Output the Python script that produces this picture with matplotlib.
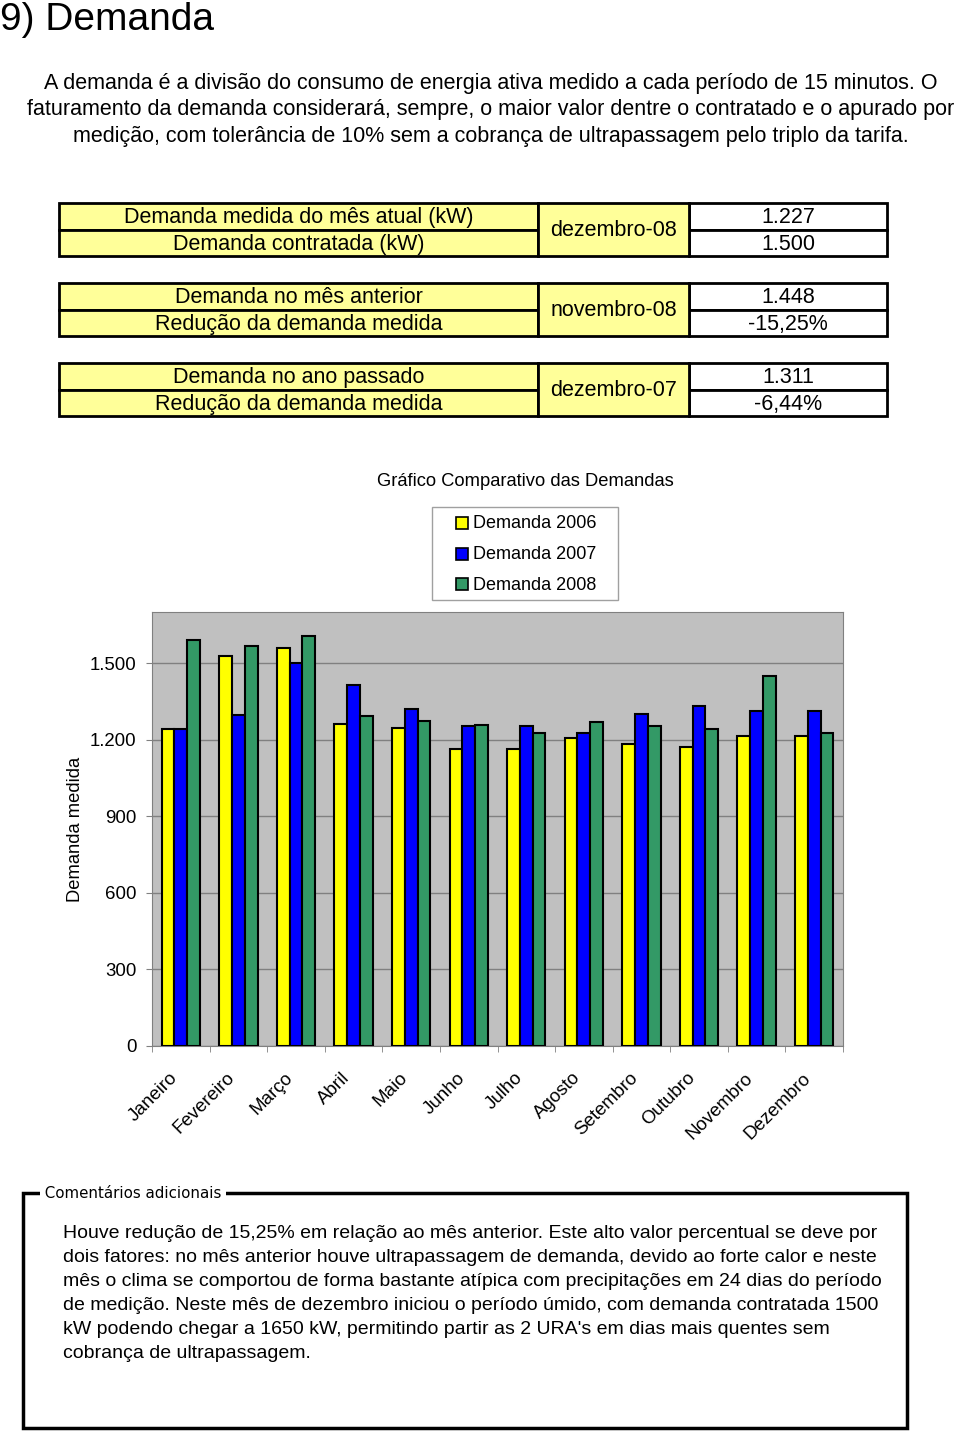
import matplotlib
matplotlib.use("Agg")
import matplotlib.pyplot as plt
import matplotlib.transforms as mtransforms
import numpy as np
from matplotlib.patches import Rectangle

plt.rcParams['font.family'] = ['Liberation Sans', 'DejaVu Sans']

# ---------------- data ----------------
months = ["Janeiro", "Fevereiro", "Março", "Abril", "Maio", "Junho",
          "Julho", "Agosto", "Setembro", "Outubro", "Novembro", "Dezembro"]
dem_2006 = [1242, 1526, 1560, 1263, 1247, 1162, 1162, 1208, 1184, 1173, 1213, 1213]
dem_2007 = [1242, 1298, 1499, 1413, 1320, 1255, 1254, 1225, 1300, 1332, 1312, 1311]
dem_2008 = [1589, 1568, 1606, 1294, 1273, 1257, 1225, 1268, 1252, 1243, 1448, 1227]
series_labels = ["Demanda 2006", "Demanda 2007", "Demanda 2008"]
series_colors = ["#FFFF00", "#0000FF", "#339966"]
y_ticks = [0, 300, 600, 900, 1200, 1500]
y_tick_labels = ["0", "300", "600", "900", "1.200", "1.500"]

table_left = [["Demanda medida do mês atual (kW)", "Demanda contratada (kW)"],
              ["Demanda no mês anterior", "Redução da demanda medida"],
              ["Demanda no ano passado", "Redução da demanda medida"]]
table_mid = ["dezembro-08", "novembro-08", "dezembro-07"]
table_right = [["1.227", "1.500"], ["1.448", "-15,25%"], ["1.311", "-6,44%"]]

title = "9) Demanda"
intro = ["A demanda é a divisão do consumo de energia ativa medido a cada período de 15 minutos. O",
         "faturamento da demanda considerará, sempre, o maior valor dentre o contratado e o apurado por",
         "medição, com tolerância de 10% sem a cobrança de ultrapassagem pelo triplo da tarifa."]
chart_title = "Gráfico Comparativo das Demandas"
y_label = "Demanda medida"
comment_title = "Comentários adicionais"
comment_lines = [
    "Houve redução de 15,25% em relação ao mês anterior. Este alto valor percentual se deve por",
    "dois fatores: no mês anterior houve ultrapassagem de demanda, devido ao forte calor e neste",
    "mês o clima se comportou de forma bastante atípica com precipitações em 24 dias do período",
    "de medição. Neste mês de dezembro iniciou o período úmido, com demanda contratada 1500",
    "kW podendo chegar a 1650 kW, permitindo partir as 2 URA's em dias mais quentes sem",
    "cobrança de ultrapassagem.",
]

# ---------------- figure ----------------
W, H = 960, 1434
fig = plt.figure(figsize=(W / 100, H / 100), dpi=100)

# overlay axis in pixel coordinates
ov = fig.add_axes([0, 0, 1, 1])
ov.set_xlim(0, W)
ov.set_ylim(H, 0)
ov.axis("off")

ov.text(0, 20, title, fontsize=28, ha="left", va="center")
for i, line in enumerate(intro):
    ov.text(491, 83.5 + i * 26.5, line, fontsize=15.5, ha="center", va="center")

# table blocks
fill = "#FFFF99"
block_tops = [203, 283, 363]
row_h = 26.5
x0, x1, x2, x3 = 59, 538, 689, 887
for b, top in enumerate(block_tops):
    for r in range(2):
        y = top + r * row_h
        ov.add_patch(Rectangle((x0, y), x1 - x0, row_h, facecolor=fill, edgecolor="black", lw=2, zorder=2))
        ov.add_patch(Rectangle((x2, y), x3 - x2, row_h, facecolor="white", edgecolor="black", lw=2, zorder=2))
        ov.text((x0 + x1) / 2, y + row_h / 2 + 1.5, table_left[b][r], fontsize=15.5, ha="center", va="center", zorder=3)
        ov.text((x2 + x3) / 2, y + row_h / 2 + 1.5, table_right[b][r], fontsize=15.5, ha="center", va="center", zorder=3)
    ov.add_patch(Rectangle((x1, top), x2 - x1, 2 * row_h, facecolor=fill, edgecolor="black", lw=2, zorder=2))
    ov.text((x1 + x2) / 2, top + row_h + 1.5, table_mid[b], fontsize=15.5, ha="center", va="center", zorder=3)

ov.text(525, 481, chart_title, fontsize=13.2, ha="center", va="center")

# legend (drawn in pixel space)
ov.add_patch(Rectangle((432, 507), 186, 93, facecolor="white", edgecolor="#A0A0A0", lw=1, zorder=2))
for k, (lab, col) in enumerate(zip(series_labels, series_colors)):
    yc = 523 + k * 30.5
    ov.add_patch(Rectangle((455.5, yc - 6), 12, 12, facecolor=col, edgecolor="black", lw=1.2, zorder=3))
    ov.text(473, yc + 1, lab, fontsize=13, ha="left", va="center", zorder=3)

# comments box
ov.add_patch(Rectangle((23, 1193), 884, 235, facecolor="none", edgecolor="black", lw=2.5, zorder=2))
ov.text(40, 1193, " " + comment_title + " ", fontsize=10.8, ha="left", va="center",
        family="DejaVu Sans", bbox=dict(facecolor="white", edgecolor="none", pad=0), zorder=3)
for i, line in enumerate(comment_lines):
    ov.text(63, 1233 + i * 24.2, line, fontsize=14, ha="left", va="center")

# ---------------- bar chart ----------------
pl, pr, pt, pb = 152, 843, 612, 1046
ax = fig.add_axes([pl / W, (H - pb) / H, (pr - pl) / W, (pb - pt) / H])
ax.set_facecolor("#C0C0C0")
x = np.arange(len(months))
bw = 0.222
for k, (vals, col, lab) in enumerate(zip([dem_2006, dem_2007, dem_2008], series_colors, series_labels)):
    ax.bar(x + (k - 1) * bw, vals, width=bw, color=col, edgecolor="black", linewidth=1.5, label=lab, zorder=3)
ax.set_xlim(-0.5, len(months) - 0.5)
ax.set_ylim(0, 1700)
ax.set_yticks(y_ticks)
ax.set_yticklabels(y_tick_labels, fontsize=13.4)
ax.yaxis.grid(True, color="#808080", lw=1)
ax.set_axisbelow(True)
ax.set_xticks(x)
ax.set_xticklabels(months, rotation=45, ha="right", rotation_mode="anchor", fontsize=13.5)
ax.tick_params(axis="x", which="major", length=0, pad=14)
offset = mtransforms.ScaledTranslation(-0.12, -0.04, fig.dpi_scale_trans)
for lbl in ax.get_xticklabels():
    lbl.set_transform(lbl.get_transform() + offset)
ax.set_xticks(np.arange(-0.5, len(months)), minor=True)
ax.tick_params(axis="x", which="minor", length=4, color="#808080")
ax.tick_params(axis="y", length=4, color="#808080", pad=7)
for s in ax.spines.values():
    s.set_color("#808080")
ax.set_ylabel(y_label, fontsize=13.2)
ax.yaxis.set_label_coords((84 - pl) / (pr - pl), 0.5)

fig.savefig("out.png", dpi=100)
